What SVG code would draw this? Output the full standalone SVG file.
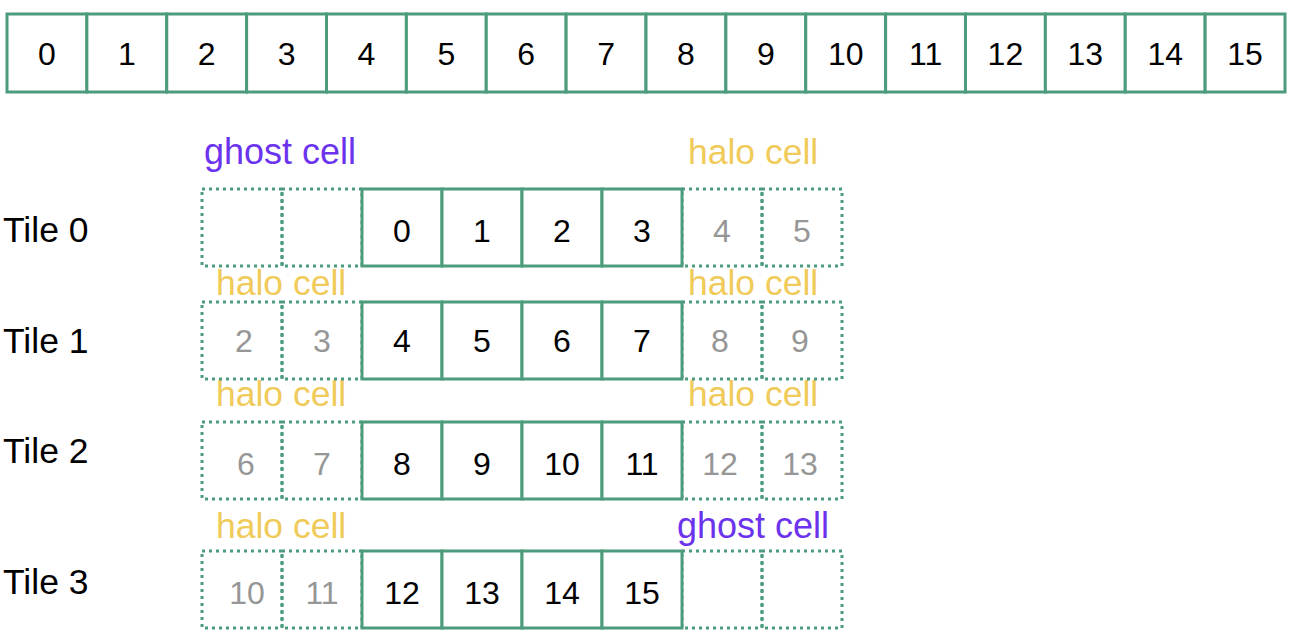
<svg xmlns="http://www.w3.org/2000/svg" width="1294" height="642" viewBox="0 0 1294 642">
<style>
.bg{fill:#ffffff}
.cell{fill:#ffffff;stroke:#4c9b7c;stroke-width:3}
.dot{fill:none;stroke:#4c9b7c;stroke-width:3;stroke-dasharray:3 4}
.num{font-family:"Liberation Sans",Arial,sans-serif;font-size:32px;fill:#000000;text-anchor:middle}
.gray{fill:#969696}
.tile{font-family:"Liberation Sans",Arial,sans-serif;font-size:35.5px;fill:#000000}
.halo{font-family:"Liberation Sans",Arial,sans-serif;font-size:35.5px;fill:#f0cb5a}
.ghost{font-family:"Liberation Sans",Arial,sans-serif;font-size:36px;fill:#6c33ee}
</style>
<rect class="bg" x="0" y="0" width="1294" height="642"/>

<g id="array">
  <g id="a0"><rect class="cell" x="7" y="14" width="79.875" height="78"/><text class="num" x="46.9" y="65">0</text></g>
  <g id="a1"><rect class="cell" x="86.875" y="14" width="79.875" height="78"/><text class="num" x="126.8" y="65">1</text></g>
  <g id="a2"><rect class="cell" x="166.75" y="14" width="79.875" height="78"/><text class="num" x="206.7" y="65">2</text></g>
  <g id="a3"><rect class="cell" x="246.625" y="14" width="79.875" height="78"/><text class="num" x="286.6" y="65">3</text></g>
  <g id="a4"><rect class="cell" x="326.5" y="14" width="79.875" height="78"/><text class="num" x="366.4" y="65">4</text></g>
  <g id="a5"><rect class="cell" x="406.375" y="14" width="79.875" height="78"/><text class="num" x="446.3" y="65">5</text></g>
  <g id="a6"><rect class="cell" x="486.25" y="14" width="79.875" height="78"/><text class="num" x="526.2" y="65">6</text></g>
  <g id="a7"><rect class="cell" x="566.125" y="14" width="79.875" height="78"/><text class="num" x="606.1" y="65">7</text></g>
  <g id="a8"><rect class="cell" x="646" y="14" width="79.875" height="78"/><text class="num" x="685.9" y="65">8</text></g>
  <g id="a9"><rect class="cell" x="725.875" y="14" width="79.875" height="78"/><text class="num" x="765.8" y="65">9</text></g>
  <g id="a10"><rect class="cell" x="805.75" y="14" width="79.875" height="78"/><text class="num" x="845.7" y="65">10</text></g>
  <g id="a11"><rect class="cell" x="885.625" y="14" width="79.875" height="78"/><text class="num" x="925.6" y="65">11</text></g>
  <g id="a12"><rect class="cell" x="965.5" y="14" width="79.875" height="78"/><text class="num" x="1005.4" y="65">12</text></g>
  <g id="a13"><rect class="cell" x="1045.375" y="14" width="79.875" height="78"/><text class="num" x="1085.3" y="65">13</text></g>
  <g id="a14"><rect class="cell" x="1125.25" y="14" width="79.875" height="78"/><text class="num" x="1165.2" y="65">14</text></g>
  <g id="a15"><rect class="cell" x="1205.125" y="14" width="79.875" height="78"/><text class="num" x="1245.1" y="65">15</text></g>
</g>

<g id="labels">
  <text class="ghost" x="204" y="164">ghost cell</text>
  <text class="halo" x="688" y="164">halo cell</text>
  <text class="halo" x="216" y="295">halo cell</text>
  <text class="halo" x="688" y="295">halo cell</text>
  <text class="halo" x="216" y="406">halo cell</text>
  <text class="halo" x="688" y="406">halo cell</text>
  <text class="halo" x="216" y="538">halo cell</text>
  <text class="ghost" x="677" y="538">ghost cell</text>
</g>

<g id="tile0">
  <text class="tile" x="3" y="242">Tile 0</text>
  <rect class="dot" x="202" y="189" width="80" height="77"/>
  <rect class="dot" x="282" y="189" width="80" height="77"/>
  <rect class="dot" x="682" y="189" width="80" height="77"/>
  <rect class="dot" x="762" y="189" width="80" height="77"/>
  <rect class="cell" x="362" y="189" width="80" height="77"/>
  <rect class="cell" x="442" y="189" width="80" height="77"/>
  <rect class="cell" x="522" y="189" width="80" height="77"/>
  <rect class="cell" x="602" y="189" width="80" height="77"/>
  <text class="num" x="402" y="242">0</text>
  <text class="num" x="482" y="242">1</text>
  <text class="num" x="562" y="242">2</text>
  <text class="num" x="642" y="242">3</text>
  <text class="num gray" x="722" y="242">4</text>
  <text class="num gray" x="802" y="242">5</text>
</g>

<g id="tile1">
  <text class="tile" x="3" y="353">Tile 1</text>
  <rect class="dot" x="202" y="302" width="80" height="77"/>
  <rect class="dot" x="282" y="302" width="80" height="77"/>
  <rect class="dot" x="682" y="302" width="80" height="77"/>
  <rect class="dot" x="762" y="302" width="80" height="77"/>
  <rect class="cell" x="362" y="302" width="80" height="77"/>
  <rect class="cell" x="442" y="302" width="80" height="77"/>
  <rect class="cell" x="522" y="302" width="80" height="77"/>
  <rect class="cell" x="602" y="302" width="80" height="77"/>
  <text class="num gray" x="244" y="352">2</text>
  <text class="num gray" x="322" y="352">3</text>
  <text class="num" x="402" y="352">4</text>
  <text class="num" x="482" y="352">5</text>
  <text class="num" x="562" y="352">6</text>
  <text class="num" x="642" y="352">7</text>
  <text class="num gray" x="720" y="352">8</text>
  <text class="num gray" x="800" y="352">9</text>
</g>

<g id="tile2">
  <text class="tile" x="3" y="463">Tile 2</text>
  <rect class="dot" x="202" y="422" width="80" height="77"/>
  <rect class="dot" x="282" y="422" width="80" height="77"/>
  <rect class="dot" x="682" y="422" width="80" height="77"/>
  <rect class="dot" x="762" y="422" width="80" height="77"/>
  <rect class="cell" x="362" y="422" width="80" height="77"/>
  <rect class="cell" x="442" y="422" width="80" height="77"/>
  <rect class="cell" x="522" y="422" width="80" height="77"/>
  <rect class="cell" x="602" y="422" width="80" height="77"/>
  <text class="num gray" x="246" y="475">6</text>
  <text class="num gray" x="322" y="475">7</text>
  <text class="num" x="402" y="475">8</text>
  <text class="num" x="482" y="475">9</text>
  <text class="num" x="562" y="475">10</text>
  <text class="num" x="642" y="475">11</text>
  <text class="num gray" x="720" y="475">12</text>
  <text class="num gray" x="800" y="475">13</text>
</g>

<g id="tile3">
  <text class="tile" x="3" y="594">Tile 3</text>
  <rect class="dot" x="202" y="551" width="80" height="77"/>
  <rect class="dot" x="282" y="551" width="80" height="77"/>
  <rect class="dot" x="682" y="551" width="80" height="77"/>
  <rect class="dot" x="762" y="551" width="80" height="77"/>
  <rect class="cell" x="362" y="551" width="80" height="77"/>
  <rect class="cell" x="442" y="551" width="80" height="77"/>
  <rect class="cell" x="522" y="551" width="80" height="77"/>
  <rect class="cell" x="602" y="551" width="80" height="77"/>
  <text class="num gray" x="247" y="604">10</text>
  <text class="num gray" x="322" y="604">11</text>
  <text class="num" x="402" y="604">12</text>
  <text class="num" x="482" y="604">13</text>
  <text class="num" x="562" y="604">14</text>
  <text class="num" x="642" y="604">15</text>
</g>

<g id="connectors"></g>
</svg>
